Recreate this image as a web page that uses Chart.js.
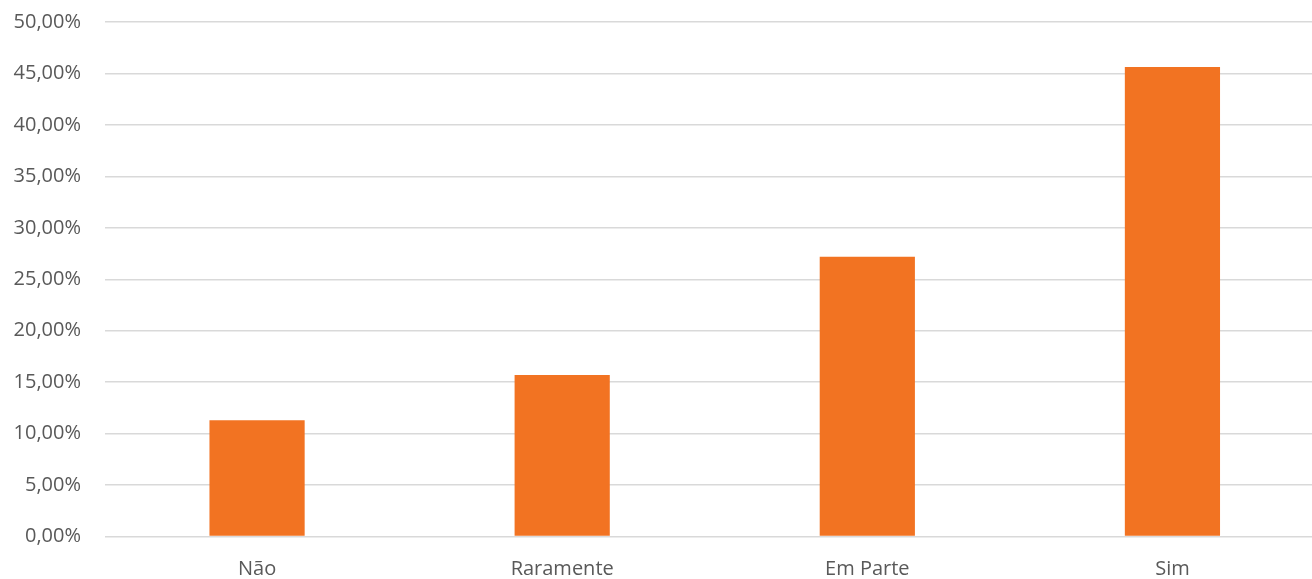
<!DOCTYPE html>
<html>
<head>
<meta charset="utf-8">
<script src="https://cdn.jsdelivr.net/npm/chart.js@4.4.0/dist/chart.umd.min.js"></script>
<style>
html,body{margin:0;padding:0;overflow:hidden;background:#fff;}
#wrap{width:1325px;height:579px;position:relative;}
</style>
</head>
<body>
<div id="wrap"><canvas id="c"></canvas></div>
<script>
const categories = ["Não", "Raramente", "Em Parte", "Sim"];
const values = [11.29, 15.69, 27.19, 45.63];
const yTicks = [0, 5, 10, 15, 20, 25, 30, 35, 40, 45, 50];
const yTickLabels = ["0,00%", "5,00%", "10,00%", "15,00%", "20,00%", "25,00%", "30,00%", "35,00%", "40,00%", "45,00%", "50,00%"];

const fontFamily = "'Open Sans', sans-serif";
new Chart(document.getElementById('c'), {
  type: 'bar',
  data: {
    labels: categories,
    datasets: [{
      data: values,
      backgroundColor: '#F27322',
      borderWidth: 0,
      categoryPercentage: 1,
      barPercentage: 0.312
    }]
  },
  options: {
    responsive: true,
    maintainAspectRatio: false,
    animation: false,
    layout: { padding: { top: 22, left: 0, right: 0, bottom: 0 } },
    plugins: { legend: { display: false }, tooltip: { enabled: false } },
    scales: {
      x: {
        grid: { display: false, drawTicks: false },
        border: { display: false },
        ticks: { color: '#595959', font: { family: fontFamily, size: 20 }, padding: 21 },
        afterFit: s => { s.height = 42.5; }
      },
      y: {
        min: 0, max: 50,
        grid: { color: '#d9d9d9', lineWidth: 1.5, drawTicks: false },
        border: { display: false },
        afterBuildTicks: s => { s.ticks = yTicks.map(v => ({ value: v })); },
        ticks: {
          color: '#595959',
          font: { family: fontFamily, size: 20 },
          padding: 23.5,
          callback: (v) => yTickLabels[yTicks.indexOf(v)]
        },
        afterFit: s => { s.width = 104.5; s.paddingTop = 0; s.paddingBottom = 0; }
      }
    }
  }
});
</script>
</body>
</html>
